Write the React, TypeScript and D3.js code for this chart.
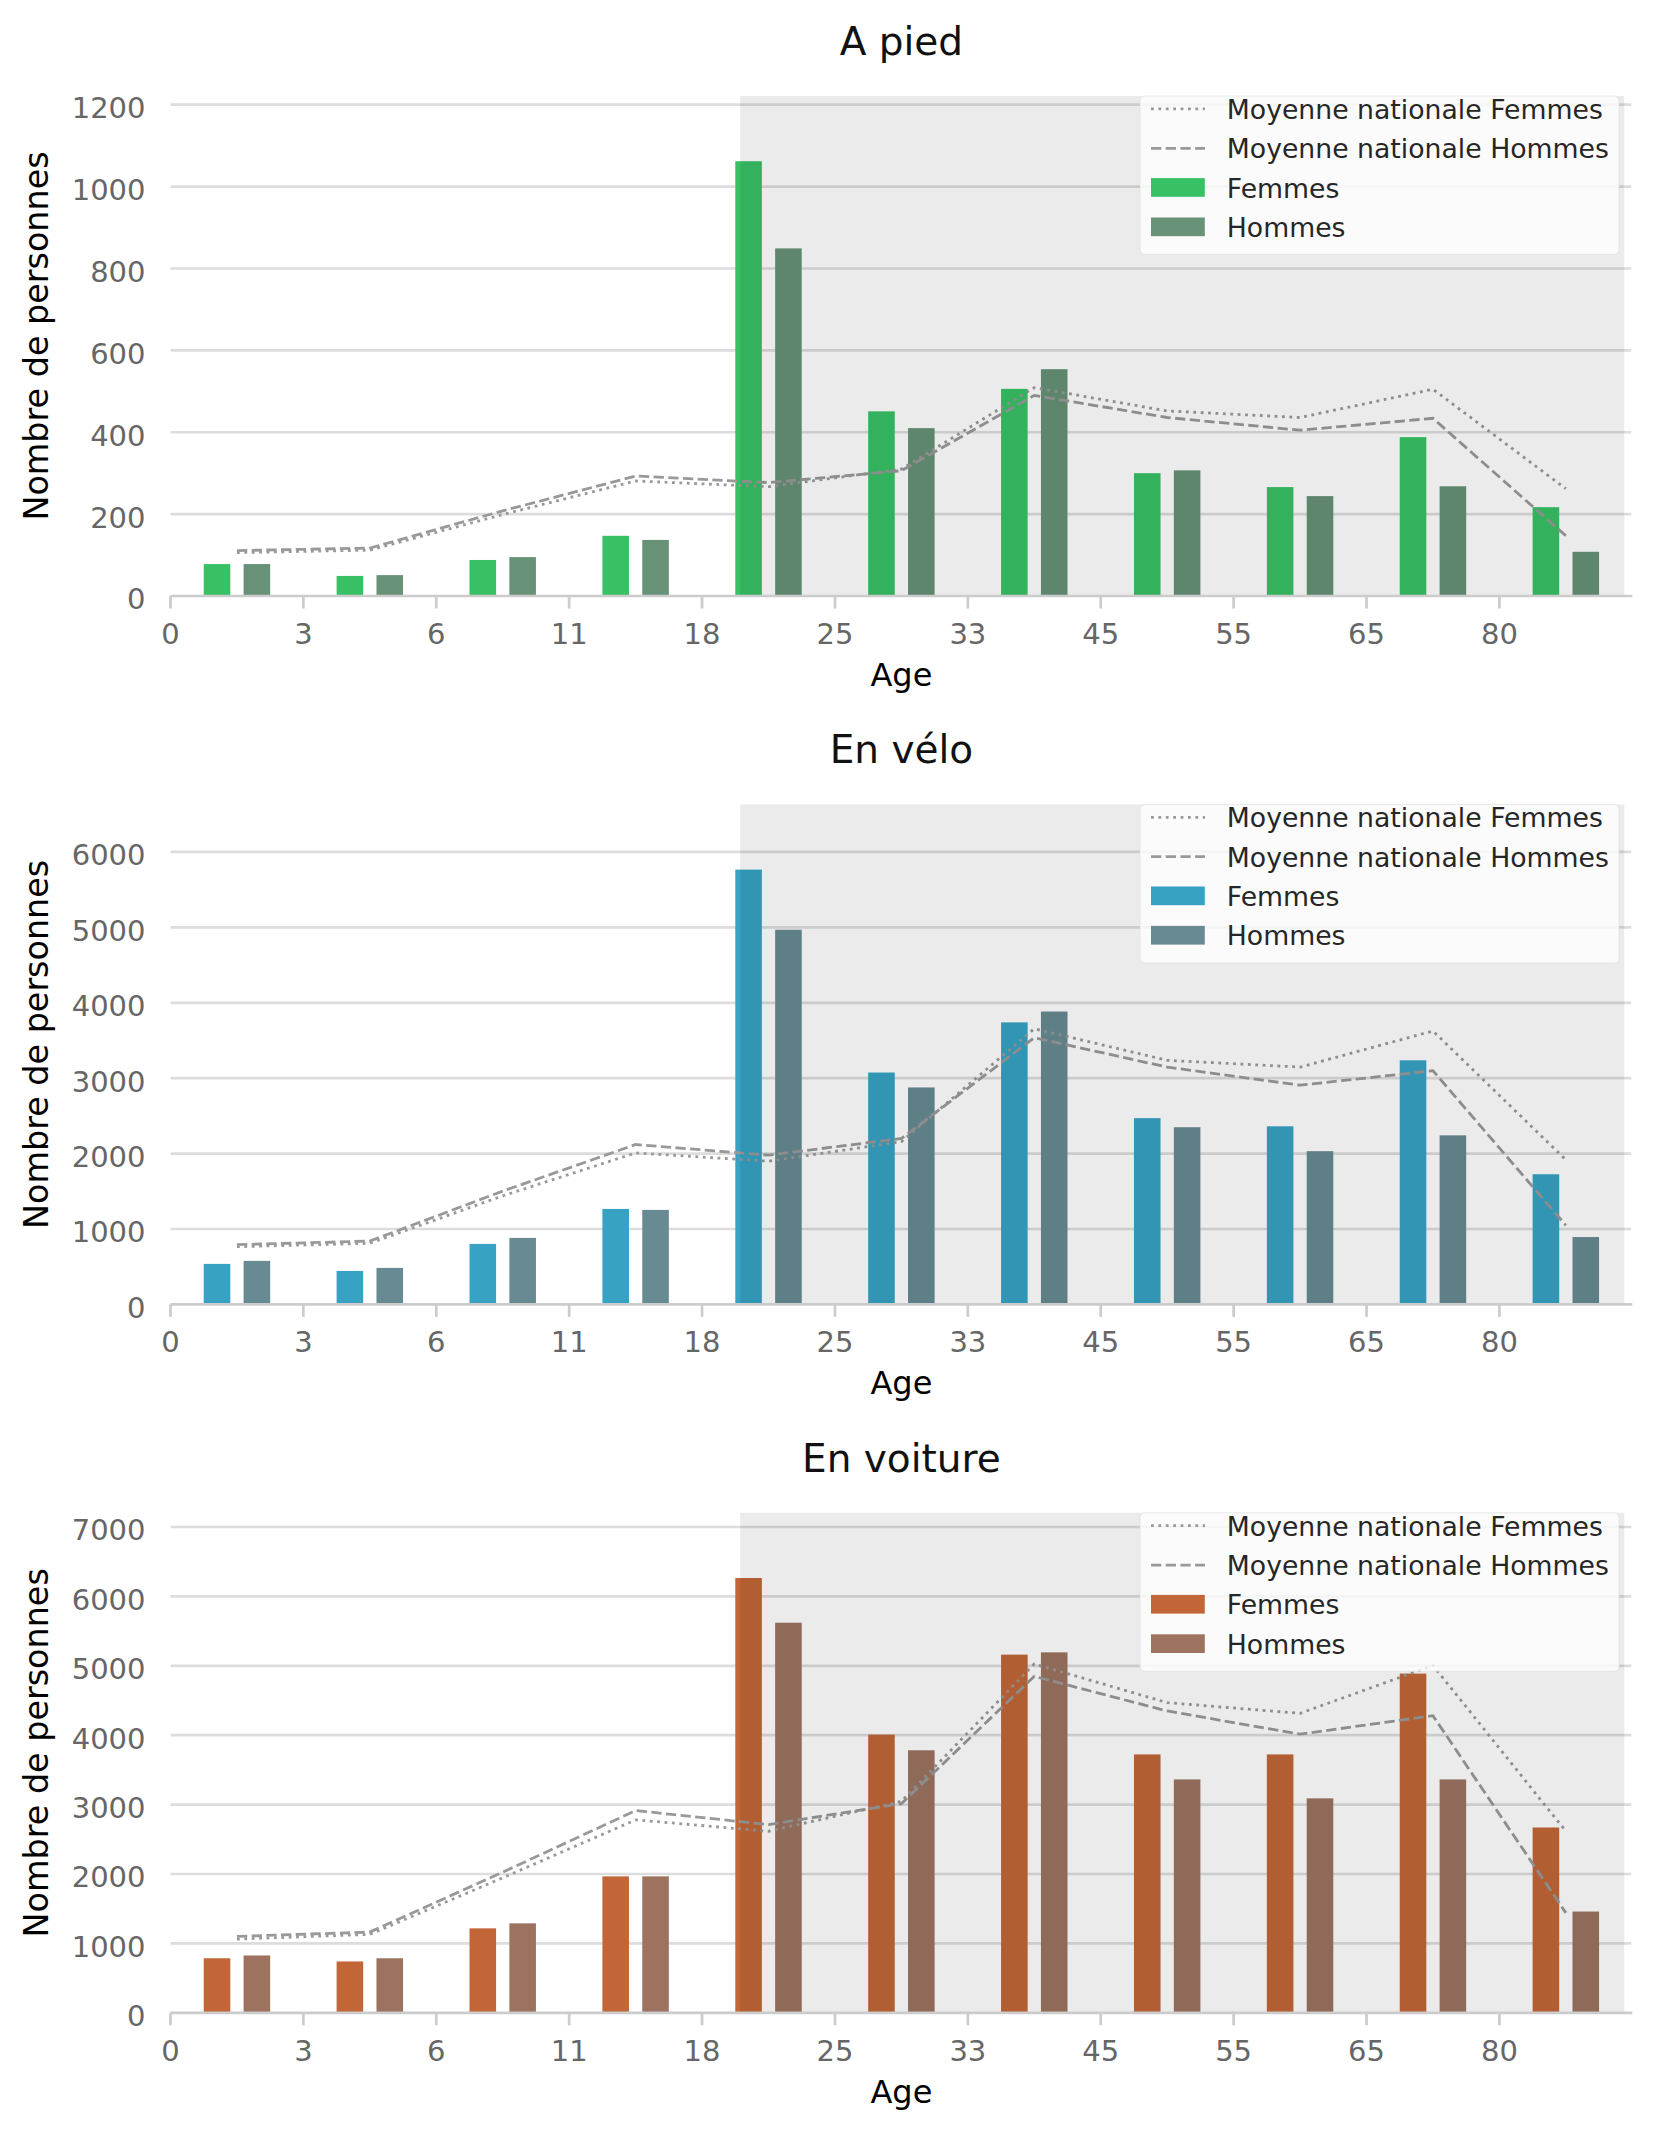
import React from "react";
import * as d3 from "d3";

// ---- Data ----
const ageTicks = ["0", "3", "6", "11", "18", "25", "33", "45", "55", "65", "80"];

const piedFemmes = [78, 49, 88, 147, 1062, 451, 506, 300, 266, 388, 217];
const piedHommes = [78, 51, 95, 137, 849, 410, 554, 307, 244, 268, 108];
const piedMoyFemmes = [106, 112, 199, 281, 267, 310, 509, 452, 436, 505, 262];
const piedMoyHommes = [111, 117, 208, 293, 277, 306, 490, 436, 405, 434, 147];

const veloFemmes = [537, 444, 802, 1266, 5766, 3075, 3740, 2470, 2362, 3237, 1726];
const veloHommes = [577, 484, 882, 1253, 4969, 2877, 3884, 2350, 2032, 2242, 893];
const veloMoyFemmes = [765, 810, 1440, 2009, 1899, 2158, 3656, 3237, 3147, 3626, 1918];
const veloMoyHommes = [792, 840, 1502, 2120, 1979, 2200, 3537, 3147, 2907, 3099, 1049];

const voitureFemmes = [786, 740, 1217, 1966, 6265, 4009, 5161, 3723, 3723, 4888, 2670];
const voitureHommes = [826, 786, 1289, 1966, 5621, 3783, 5194, 3363, 3090, 3363, 1459];
const voitureMoyFemmes = [1062, 1130, 1945, 2780, 2616, 3046, 5027, 4469, 4315, 5005, 2617];
const voitureMoyHommes = [1101, 1163, 2026, 2914, 2712, 3014, 4848, 4349, 4015, 4281, 1440];

const titles = ["A pied", "En vélo", "En voiture"];
const legendLabels = ["Moyenne nationale Femmes", "Moyenne nationale Hommes", "Femmes", "Hommes"];

const panels = [
  { title: titles[0], femmes: piedFemmes, hommes: piedHommes, moyF: piedMoyFemmes, moyH: piedMoyHommes, colF: "#38c164", colH: "#679277", step: 200 },
  { title: titles[1], femmes: veloFemmes, hommes: veloHommes, moyF: veloMoyFemmes, moyH: veloMoyHommes, colF: "#37a2c4", colH: "#688a93", step: 1000 },
  { title: titles[2], femmes: voitureFemmes, hommes: voitureHommes, moyF: voitureMoyFemmes, moyH: voitureMoyHommes, colF: "#c26638", colH: "#9d7360", step: 1000 },
];

// ---- Layout ----
const W = 1655;
const H = 2135;
const LEFT = 170.5;
const RIGHT = 1632.3;
const PANEL_STEP = 708.4;
const TOP = 96;
const BOTTOM = 596;
const FONT = "DejaVu Sans, Verdana, sans-serif";
const GRID = "#dddddd";
const SPINE = "#cccccc";
const TICKCOL = "#666666";
const LINECOL = "#999999";
const LW = 2.8;

function Panel({ p, idx }: { p: any; idx: number }) {
  const oy = idx * PANEL_STEP;
  const x = d3.scaleLinear().domain([0, 11]).range([LEFT, RIGHT]);
  const yMax = (d3.max([...p.femmes, ...p.hommes]) as number) * 1.15;
  const y = d3.scaleLinear().domain([0, yMax]).range([oy + BOTTOM, oy + TOP]);
  const yTicks = d3.range(0, yMax + 1e-9, p.step);
  const line = d3
    .line<number>()
    .x((_, i) => x(i + 0.5))
    .y((d) => y(d));

  const barW = 0.2;
  const legX = 1140;
  const legTop = oy + TOP;
  const rows = [118.7, 158.1, 197.5, 236.9].map((b) => b - TOP + legTop);

  return (
    <g>
      <text x={(LEFT + RIGHT) / 2} y={oy + 55} textAnchor="middle" fontFamily={FONT} fontSize={39} fill="#111">
        {p.title}
      </text>
      {yTicks.filter((t) => t > 0).map((t) => (
        <line key={"g" + t} x1={LEFT} x2={RIGHT - 1} y1={y(t)} y2={y(t)} stroke={GRID} strokeWidth={2.7} />
      ))}
      {p.femmes.map((v: number, i: number) => (
        <rect key={"f" + i} x={x(i + 0.35 - barW / 2)} width={x(barW) - x(0)} y={y(v)} height={y(0) - y(v)} fill={p.colF} />
      ))}
      {p.hommes.map((v: number, i: number) => (
        <rect key={"h" + i} x={x(i + 0.65 - barW / 2)} width={x(barW) - x(0)} y={y(v)} height={y(0) - y(v)} fill={p.colH} />
      ))}
      <path d={line(p.moyF) || ""} fill="none" stroke={LINECOL} strokeWidth={LW} strokeDasharray="2.8,4.6" />
      <path d={line(p.moyH) || ""} fill="none" stroke={LINECOL} strokeWidth={LW} strokeDasharray="10.3,4.4" />
      <rect x={x(4.287)} width={x(10.94) - x(4.287)} y={y(yMax)} height={y(0) - y(yMax)} fill="#000" fillOpacity={0.08} />
      <line x1={LEFT} x2={RIGHT} y1={y(0)} y2={y(0)} stroke={SPINE} strokeWidth={2.7} />
      {ageTicks.map((t, i) => (
        <g key={"xt" + i}>
          <line x1={x(i)} x2={x(i)} y1={y(0)} y2={y(0) + 12.5} stroke={SPINE} strokeWidth={2.7} />
          <text x={x(i)} y={oy + 644} textAnchor="middle" fontFamily={FONT} fontSize={29} fill={TICKCOL}>
            {t}
          </text>
        </g>
      ))}
      {yTicks.map((t) => (
        <text key={"yt" + t} x={LEFT - 25} y={y(t) + 13.4} textAnchor="end" fontFamily={FONT} fontSize={29} fill={TICKCOL}>
          {t}
        </text>
      ))}
      <text x={(LEFT + RIGHT) / 2} y={oy + 686} textAnchor="middle" fontFamily={FONT} fontSize={32} fill="#000">
        Age
      </text>
      <text
        transform={`translate(48, ${oy + 336}) rotate(-90)`}
        textAnchor="middle"
        fontFamily={FONT}
        fontSize={33.4}
        fill="#000"
      >
        Nombre de personnes
      </text>
      <rect x={legX} y={legTop} width={479} height={158.5} rx={5} fill="#ffffff" fillOpacity={0.8} stroke="#dcdcdc" strokeOpacity={0.6} strokeWidth={1} />
      <line x1={1151} x2={1205} y1={rows[0] - 9.8} y2={rows[0] - 9.8} stroke={LINECOL} strokeWidth={LW} strokeDasharray="2.8,4.6" />
      <line x1={1151} x2={1205} y1={rows[1] - 9.8} y2={rows[1] - 9.8} stroke={LINECOL} strokeWidth={LW} strokeDasharray="10.3,4.4" />
      <rect x={1151} y={rows[2] - 19.4} width={53.8} height={18.7} fill={p.colF} />
      <rect x={1151} y={rows[3] - 19.4} width={53.8} height={18.7} fill={p.colH} />
      {legendLabels.map((l, i) => (
        <text key={"l" + i} x={1226.8} y={rows[i]} fontFamily={FONT} fontSize={26.7} fill="#262626">
          {l}
        </text>
      ))}
    </g>
  );
}

export default function App() {
  return (
    <svg
      width={W}
      height={H}
      viewBox={`0 0 ${W} ${H}`}
      style={{ position: "absolute", left: 0, top: 0, display: "block", background: "#fff" }}
    >
      <rect x={0} y={0} width={W} height={H} fill="#fff" />
      {panels.map((p, i) => (
        <Panel key={i} p={p} idx={i} />
      ))}
    </svg>
  );
}
